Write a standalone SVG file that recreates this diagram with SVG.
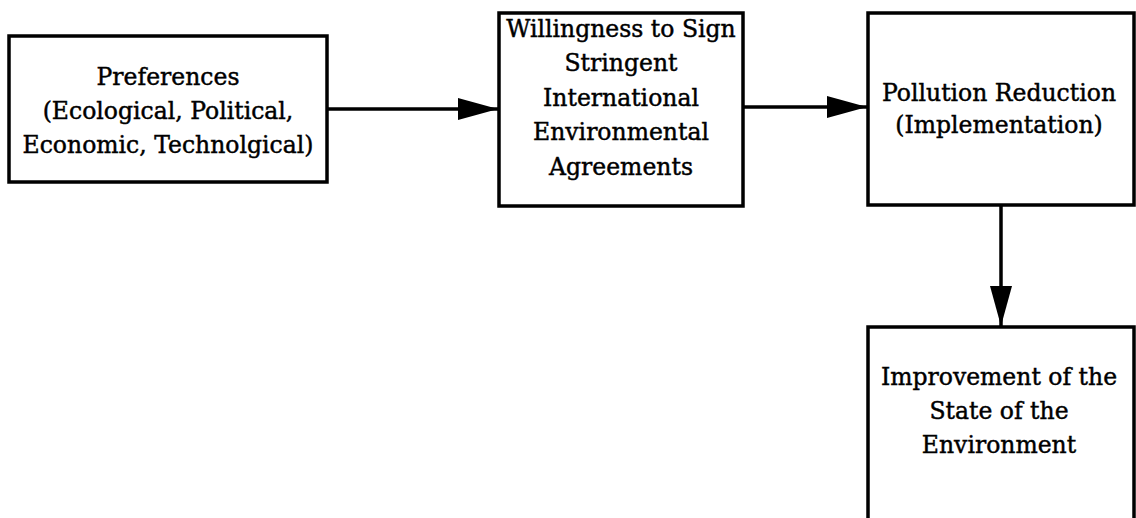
<svg xmlns="http://www.w3.org/2000/svg" width="1136" height="518" viewBox="0 0 1136 518">
  <style>
    .box { fill: #ffffff; stroke: #000000; stroke-width: 3.5; }
    .lbl { font-family: "DejaVu Serif", "Liberation Serif", serif; font-size: 23.5px; fill: #000000; stroke: #000000; stroke-width: 0.45; text-anchor: middle; }
    .conn { stroke: #000000; stroke-width: 3.5; fill: none; }
  </style>
  <defs>
    <marker id="arrow" markerUnits="userSpaceOnUse" markerWidth="42" markerHeight="24" refX="40" refY="11" orient="auto">
      <path d="M0,0 L40,11 L0,22 Z" fill="#000000"/>
    </marker>
  </defs>
  <rect width="1136" height="518" fill="#ffffff"/>

  <g id="node-preferences">
    <rect class="box" x="9" y="36" width="318" height="146"/>
    <text class="lbl" x="168" y="85">Preferences</text>
    <text class="lbl" x="168" y="119">(Ecological, Political,</text>
    <text class="lbl" x="168" y="153">Economic, Technolgical)</text>
  </g>

  <g id="node-willingness">
    <rect class="box" x="499" y="13" width="244" height="193"/>
    <text class="lbl" x="621" y="37">Willingness to Sign</text>
    <text class="lbl" x="621" y="71">Stringent</text>
    <text class="lbl" x="621" y="106">International</text>
    <text class="lbl" x="621" y="140">Environmental</text>
    <text class="lbl" x="621" y="175">Agreements</text>
  </g>

  <g id="node-pollution">
    <rect class="box" x="868" y="13" width="266" height="192"/>
    <text class="lbl" x="999" y="101">Pollution Reduction</text>
    <text class="lbl" x="999" y="133">(Implementation)</text>
  </g>

  <g id="node-improvement">
    <rect class="box" x="868" y="327" width="266" height="200"/>
    <text class="lbl" x="999" y="385">Improvement of the</text>
    <text class="lbl" x="999" y="419">State of the</text>
    <text class="lbl" x="999" y="453">Environment</text>
  </g>

  <g id="connectors">
    <line class="conn" x1="328" y1="109" x2="498" y2="109" marker-end="url(#arrow)"/>
    <line class="conn" x1="744" y1="107" x2="867" y2="107" marker-end="url(#arrow)"/>
    <line class="conn" x1="1001" y1="206" x2="1001" y2="326" marker-end="url(#arrow)"/>
  </g>
</svg>
